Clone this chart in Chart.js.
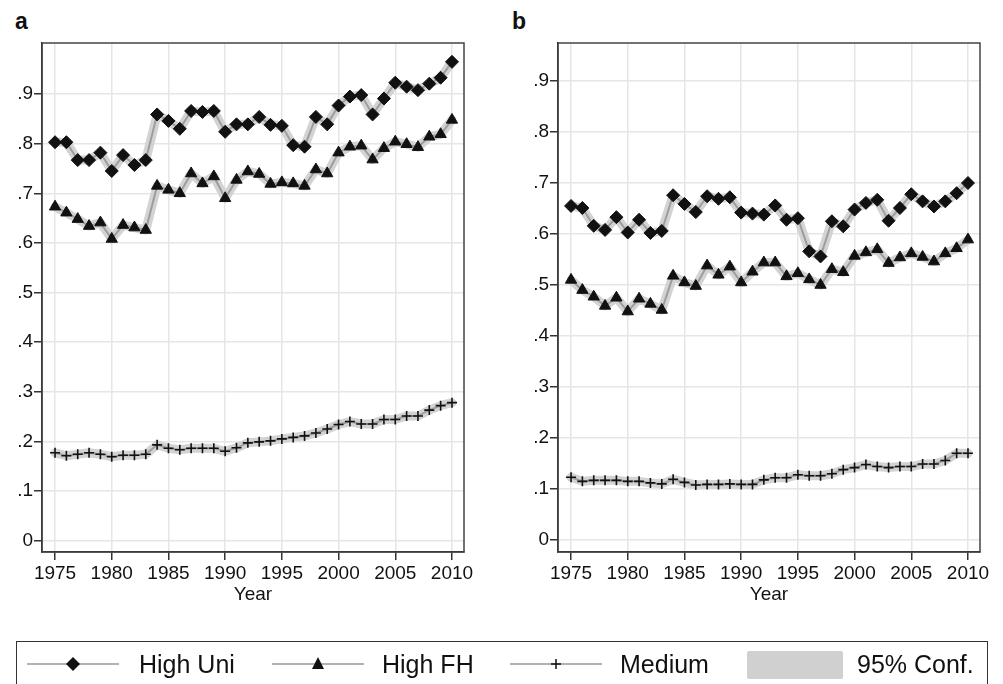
<!DOCTYPE html>
<html>
<head>
<meta charset="utf-8">
<script src="https://cdn.jsdelivr.net/npm/chart.js@4.4.1/dist/chart.umd.min.js"></script>
<style>
  body { margin: 0; background: #fff; width: 1003px; height: 684px; overflow: hidden; position: relative; font-family: "Liberation Sans", Arial, sans-serif; color: #111; }
  canvas { position: absolute; top: 0; }
  .panelTag { position: absolute; font-weight: bold; font-size: 23px; line-height: 23px; }
  .legendBox { position: absolute; left: 16px; top: 641px; width: 972px; height: 60px; border: 1.5px solid #333; box-sizing: border-box; }
  .legendText { position: absolute; font-size: 25px; line-height: 25px; top: 652px; }
  svg { position: absolute; left: 0; top: 0; }
</style>
</head>
<body>
<div class="panelTag" style="left:15px; top:10px;">a</div>
<div class="panelTag" style="left:512px; top:10px;">b</div>
<canvas id="chartA" width="480" height="620" style="left:0px; width:480px; height:620px;"></canvas>
<canvas id="chartB" width="480" height="620" style="left:516px; width:480px; height:620px;"></canvas>

<div class="legendBox"></div>
<svg width="1003" height="684">
  <line x1="27" y1="664" x2="119" y2="664" stroke="#999" stroke-width="1.5"/>
  <polygon points="73,657 80,664 73,671 66,664" fill="#111"/>
  <line x1="272" y1="664" x2="364" y2="664" stroke="#999" stroke-width="1.5"/>
  <polygon points="318,657 324,669 312,669" fill="#111"/>
  <line x1="510" y1="664" x2="602" y2="664" stroke="#999" stroke-width="1.5"/>
  <line x1="551" y1="664" x2="561" y2="664" stroke="#111" stroke-width="1.5"/>
  <line x1="556" y1="659" x2="556" y2="669" stroke="#111" stroke-width="1.5"/>
  <rect x="747" y="651" width="96" height="28" rx="2" fill="#d0d0d0"/>
</svg>
<div class="legendText" style="left:139px;">High Uni</div>
<div class="legendText" style="left:382px;">High FH</div>
<div class="legendText" style="left:620px;">Medium</div>
<div class="legendText" style="left:857px;">95% Conf.</div>

<script>
// years on the x axis
const years = [1975, 1976, 1977, 1978, 1979, 1980, 1981, 1982, 1983, 1984, 1985, 1986,
  1987, 1988, 1989, 1990, 1991, 1992, 1993, 1994, 1995, 1996, 1997, 1998, 1999, 2000,
  2001, 2002, 2003, 2004, 2005, 2006, 2007, 2008, 2009, 2010];
const xTicks = [1975, 1980, 1985, 1990, 1995, 2000, 2005, 2010];
const yTicks = [0, 0.1, 0.2, 0.3, 0.4, 0.5, 0.6, 0.7, 0.8, 0.9];

// panel a
const highUniA = [0.803, 0.803, 0.767, 0.767, 0.782, 0.745, 0.777, 0.757, 0.767, 0.859,
  0.846, 0.830, 0.866, 0.864, 0.866, 0.824, 0.839, 0.839, 0.854, 0.838, 0.836, 0.797,
  0.794, 0.854, 0.839, 0.877, 0.895, 0.898, 0.859, 0.891, 0.923, 0.915, 0.908, 0.921,
  0.933, 0.965];
const highFhA = [0.673, 0.661, 0.648, 0.634, 0.641, 0.608, 0.636, 0.631, 0.626, 0.715,
  0.707, 0.700, 0.740, 0.720, 0.734, 0.690, 0.727, 0.744, 0.739, 0.719, 0.722, 0.720,
  0.715, 0.748, 0.740, 0.782, 0.794, 0.796, 0.768, 0.791, 0.804, 0.799, 0.793, 0.814,
  0.819, 0.848];
const mediumA = [0.177, 0.171, 0.174, 0.177, 0.174, 0.169, 0.172, 0.172, 0.174, 0.193,
  0.186, 0.183, 0.186, 0.186, 0.186, 0.180, 0.187, 0.197, 0.199, 0.201, 0.205, 0.208,
  0.211, 0.217, 0.225, 0.234, 0.240, 0.235, 0.235, 0.244, 0.244, 0.251, 0.251, 0.263,
  0.272, 0.278];

// panel b
const highUniB = [0.655, 0.651, 0.616, 0.608, 0.633, 0.603, 0.628, 0.602, 0.606, 0.676,
  0.659, 0.643, 0.674, 0.669, 0.672, 0.642, 0.640, 0.638, 0.656, 0.628, 0.631, 0.566,
  0.556, 0.625, 0.615, 0.648, 0.661, 0.667, 0.626, 0.651, 0.678, 0.664, 0.654, 0.664,
  0.680, 0.700];
const highFhB = [0.510, 0.490, 0.477, 0.459, 0.475, 0.448, 0.473, 0.463, 0.451, 0.518,
  0.505, 0.498, 0.538, 0.520, 0.536, 0.505, 0.526, 0.544, 0.544, 0.517, 0.523, 0.511,
  0.500, 0.531, 0.525, 0.557, 0.564, 0.570, 0.543, 0.554, 0.562, 0.555, 0.546, 0.562,
  0.572, 0.589];
const mediumB = [0.123, 0.115, 0.117, 0.117, 0.117, 0.115, 0.115, 0.112, 0.110, 0.119,
  0.113, 0.108, 0.109, 0.109, 0.110, 0.109, 0.109, 0.118, 0.122, 0.122, 0.128, 0.126,
  0.126, 0.130, 0.138, 0.142, 0.148, 0.144, 0.142, 0.144, 0.144, 0.149, 0.149, 0.156,
  0.170, 0.170];

const tickFont = { family: '"Liberation Sans", Arial, sans-serif', size: 19 };

// box around the plot area (top and right edges)
const frameBox = {
  id: 'frameBox',
  afterDraw(chart) {
    const a = chart.chartArea;
    const ctx = chart.ctx;
    ctx.save();
    ctx.strokeStyle = '#444';
    ctx.lineWidth = 1.5;
    ctx.strokeRect(a.left, a.top, a.right - a.left, a.bottom - a.top);
    ctx.restore();
  }
};

function toPoints(values) {
  return years.map((y, i) => ({ x: y, y: values[i] }));
}

function bandSet(values) {
  return {
    data: toPoints(values),
    borderColor: '#d3d3d3',
    borderWidth: 9,
    borderJoinStyle: 'round',
    borderCapStyle: 'round',
    pointRadius: 0,
    order: 10
  };
}

function lineSet(values, style, radius) {
  return {
    data: toPoints(values),
    borderColor: '#9d9d9d',
    borderWidth: 2,
    pointStyle: style,
    pointRadius: radius,
    pointBackgroundColor: '#111',
    pointBorderColor: '#111',
    pointBorderWidth: style === 'cross' ? 1.6 : 1,
    order: 1
  };
}

function makeChart(id, uni, fh, med, yMin, yMax) {
  const ctx = document.getElementById(id).getContext('2d');
  return new Chart(ctx, {
    type: 'line',
    data: {
      datasets: [
        lineSet(uni, 'rectRot', 6.5),
        lineSet(fh, 'triangle', 6.5),
        lineSet(med, 'cross', 5),
        bandSet(uni),
        bandSet(fh),
        bandSet(med)
      ]
    },
    options: {
      responsive: false,
      animation: false,
      layout: { padding: { top: 43, right: 16, left: 0, bottom: 0 } },
      plugins: { legend: { display: false }, tooltip: { enabled: false } },
      scales: {
        x: {
          type: 'linear',
          min: 1973.85,
          max: 2011.06,
          afterBuildTicks: (scale) => { scale.ticks = xTicks.map(v => ({ value: v })); },
          afterFit: (scale) => { scale.height = 68; },
          grid: { color: '#e6e6e6', lineWidth: 1.5, tickColor: '#333', tickWidth: 1.5, tickLength: 8 },
          border: { color: '#222', width: 1.5 },
          ticks: { autoSkip: false, maxRotation: 0, padding: 2, color: '#111', font: tickFont, callback: v => String(v) },
          title: { display: true, text: 'Year', color: '#111', font: tickFont, padding: { top: 0, bottom: 14 } }
        },
        y: {
          min: yMin,
          max: yMax,
          afterBuildTicks: (scale) => { scale.ticks = yTicks.map(v => ({ value: v })); },
          afterFit: (scale) => { scale.width = 42; },
          grid: { color: '#e6e6e6', lineWidth: 1.5, tickColor: '#333', tickWidth: 1.5, tickLength: 8 },
          border: { color: '#222', width: 1.5 },
          ticks: {
            padding: 1,
            color: '#111',
            font: tickFont,
            callback: v => (v === 0 ? '0' : '.' + Math.round(v * 10))
          }
        }
      }
    },
    plugins: [frameBox]
  });
}

makeChart('chartA', highUniA, highFhA, mediumA, -0.023, 1.003);
makeChart('chartB', highUniB, highFhB, mediumB, -0.0235, 0.9745);
</script>
</body>
</html>
